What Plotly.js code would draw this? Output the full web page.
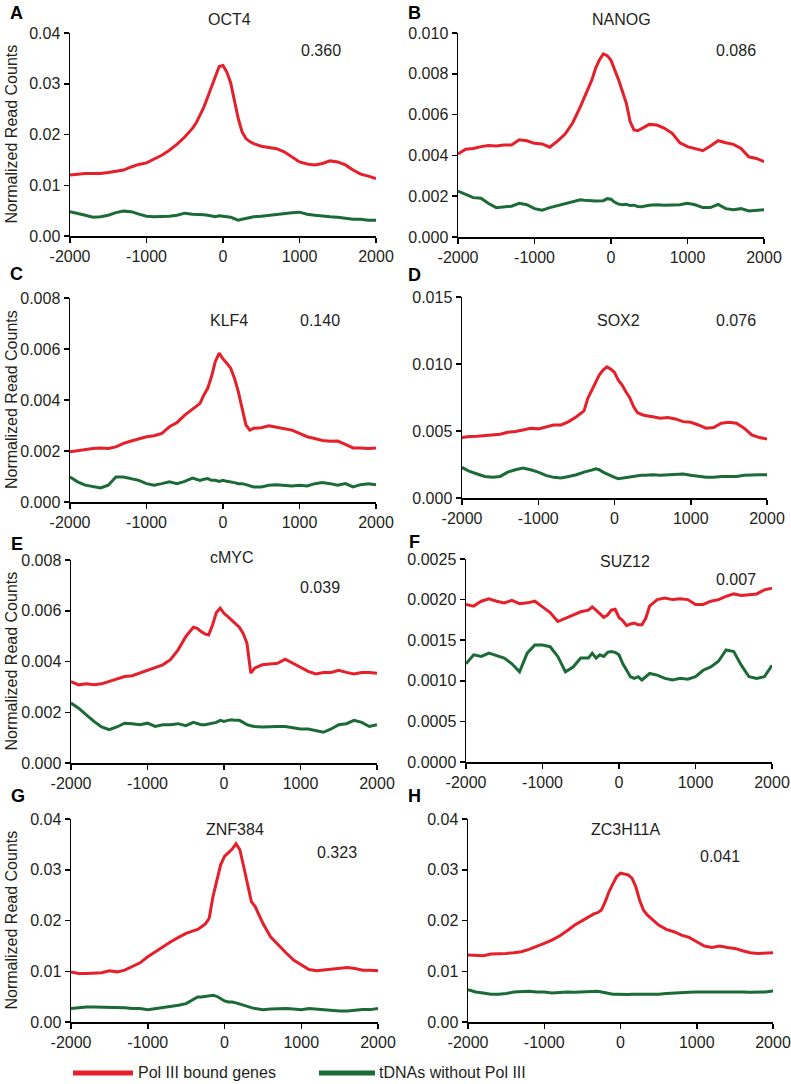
<!DOCTYPE html>
<html>
<head>
<meta charset="utf-8">
<script src="https://cdn.plot.ly/plotly-3.0.1.min.js"></script>
<style>html,body{margin:0;padding:0;background:#fff;}#chart{width:791px;height:1084px;}</style>
</head>
<body>
<div id="chart"></div>
<script>
// ---------------- DATA ----------------
const positions = [-2000,-1900,-1800,-1700,-1600,-1500,-1400,-1300,-1200,-1100,-1000,-900,-800,-700,-600,-500,
  -400,-350,-300,-250,-200,-150,-100,-50,0,50,100,150,200,250,300,350,400,
  500,600,700,800,900,1000,1100,1200,1300,1400,1500,1600,1700,1800,1900,2000];

const panelLetters = ["A","B","C","D","E","F","G","H"];
const factorNames = ["OCT4","NANOG","KLF4","SOX2","cMYC","SUZ12","ZNF384","ZC3H11A"];
const scores = ["0.360","0.086","0.140","0.076","0.039","0.007","0.323","0.041"];
const seriesNames = ["Pol III bound genes","tDNAs without Pol III"];
const yTitle = "Normalized Read Counts";
const xTicks = [-2000,-1000,0,1000,2000];
const xTickLabels = ["-2000","-1000","0","1000","2000"];
const yMax = [0.04,0.010,0.008,0.015,0.008,0.0025,0.04,0.04];
const yStep = [0.01,0.002,0.002,0.005,0.002,0.0005,0.01,0.01];
const yFormat = [".2f",".3f",".3f",".3f",".3f",".4f",".2f",".2f"];

const oct4Pol = [.0120,.0122,.0123,.0123,.0123,.0125,.0127,.0130,.0136,.0141,.0144,.0151,.0159,.0169,.0181,.0195,
  .0212,.0223,.0238,.0254,.0274,.0295,.0317,.0334,.0336,.0323,.0302,.0268,.0231,.0205,.0192,.0186,.0182,
  .0177,.0174,.0172,.0166,.0156,.0146,.0142,.0140,.0143,.0148,.0146,.0140,.0130,.0122,.0118,.0113];
const oct4Tdna = [.0048,.0045,.0041,.0037,.0038,.0041,.0046,.0049,.0048,.0043,.0039,.0038,.0038,.0039,.0041,.0045,
  .0043,.0043,.0043,.0042,.0041,.0040,.0038,.0040,.0039,.0038,.0037,.0034,.0031,.0033,.0035,.0036,.0038,
  .0039,.0041,.0043,.0045,.0046,.0047,.0043,.0041,.0039,.0038,.0037,.0035,.0033,.0033,.0031,.0031];

const nanogPol = [.00407,.00430,.00434,.00443,.00448,.00446,.00451,.00451,.00477,.00472,.00459,.00456,.00440,.00470,.00505,.00560,
  .00639,.0068,.00725,.0077,.00828,.00869,.00898,.00889,.00866,.0082,.0077,.00713,.00656,.00566,.00525,.00521,.00530,
  .00552,.00549,.00533,.00508,.00462,.00443,.00434,.00423,.00446,.00472,.00462,.00454,.00434,.00393,.00385,.00369];
const nanogTdna = [.00225,.00210,.00193,.00190,.00164,.00144,.00146,.00151,.00165,.00158,.00139,.00131,.00144,.00154,.00162,.00172,
  .00182,.00180,.00180,.00178,.00176,.00178,.00178,.00188,.00185,.00170,.00161,.00158,.00160,.00154,.00156,.00150,.00148,
  .00156,.00158,.00156,.00158,.00158,.00165,.00158,.00144,.00144,.00160,.00139,.00134,.00139,.00128,.00130,.00134];

const klf4Pol = [.00197,.00202,.00207,.00210,.00212,.00210,.00216,.00230,.00239,.00247,.00256,.00260,.00269,.00295,.00312,.00341,
  .00365,.00374,.00387,.0042,.00446,.00492,.00551,.00584,.00561,.00544,.00525,.00485,.00433,.00367,.00302,.00282,.00289,
  .00291,.00299,.00293,.00288,.00282,.00269,.00256,.00249,.00241,.00238,.00239,.00226,.00212,.00212,.00210,.00212];
const klf4Tdna = [.00098,.00079,.00066,.00059,.00055,.00066,.00098,.00098,.00092,.00085,.00072,.00066,.00072,.00079,.00072,.00081,
  .00094,.00089,.00085,.00089,.00092,.00085,.00085,.00081,.00085,.00081,.00079,.00076,.00072,.00072,.00068,.00063,.00059,
  .00059,.00066,.00068,.00066,.00063,.00066,.00063,.00072,.00076,.00072,.00066,.00072,.00059,.00068,.00072,.00068];

const sox2Pol = [.00451,.00459,.00461,.00466,.00471,.00476,.00491,.00496,.00508,.00521,.00516,.00533,.00545,.00545,.00570,.00607,
  .0065,.00744,.00806,.00855,.00917,.00955,.00979,.00962,.00937,.0088,.00843,.00793,.00749,.00682,.00637,.00625,.00615,
  .00607,.00595,.0060,.0059,.0057,.00565,.00545,.00521,.00526,.00558,.00565,.00558,.00521,.00471,.00451,.00441];
const sox2Tdna = [.00228,.00198,.00179,.00161,.00154,.00161,.00193,.00211,.00223,.00211,.00193,.00169,.00154,.00149,.00161,.00174,
  .00193,.00198,.00208,.00218,.00211,.00193,.00179,.00169,.00154,.00144,.00149,.00154,.00154,.00161,.00169,.00169,.00169,
  .00174,.00169,.00174,.00174,.00179,.00169,.00161,.00154,.00154,.00161,.00161,.00161,.00169,.00174,.00174,.00174];

const cmycPol = [.00321,.00308,.00312,.00308,.00312,.00321,.00330,.00341,.00344,.00354,.00367,.00374,.00387,.00407,.00446,.00498,
  .00535,.00531,.00518,.00509,.00505,.00544,.00593,.0061,.0059,.00577,.00564,.00551,.00535,.00511,.00472,.00354,.00374,
  .00387,.00391,.00393,.00409,.00393,.0038,.00361,.00351,.00357,.00357,.00365,.00357,.00351,.00357,.00357,.00354];
const cmycTdna = [.00236,.00216,.0019,.00164,.00142,.00131,.00142,.00157,.00155,.00151,.00157,.00144,.00151,.00151,.00155,.00147,
  .0016,.00155,.00151,.00151,.00155,.00157,.0016,.00168,.00164,.00168,.0017,.00168,.00168,.0016,.00151,.00147,.00144,
  .00142,.00144,.00144,.00144,.00138,.00134,.00134,.00129,.00121,.00134,.00151,.00155,.00168,.0016,.00144,.00151];

const suz12Pol = [.00194,.00192,.00198,.00201,.00198,.00196,.00199,.00195,.00196,.00198,.00191,.00184,.00173,.00177,.00181,.00185,
  .00187,.00191,.00187,.00182,.00178,.00181,.00187,.00188,.00178,.00174,.00168,.0017,.00171,.00169,.00169,.00177,.00192,
  .0020,.00202,.0020,.00201,.0020,.00194,.00194,.00198,.0020,.00204,.00207,.00205,.00206,.00207,.00212,.00214];
const suz12Tdna = [.00121,.00132,.0013,.00134,.00131,.00128,.00121,.00111,.00134,.00144,.00144,.00142,.0013,.00111,.00117,.00128,
  .00128,.00134,.00128,.00132,.0013,.00135,.00136,.00135,.00132,.00121,.00113,.00105,.00103,.00105,.00101,.00105,.00109,
  .00107,.00103,.00101,.00103,.00102,.00105,.00113,.00117,.00124,.00138,.00136,.00119,.00105,.00103,.00105,.00119];

const znf384Pol = [.00988,.00956,.00956,.00956,.00969,.01008,.00988,.01021,.01087,.01166,.01285,.01384,.01496,.01582,.01667,.01746,
  .01799,.01825,.01878,.01931,.02043,.02471,.02787,.03097,.03262,.03328,.03407,.03512,.03394,.03064,.02722,.02372,.02273,
  .01944,.0168,.01516,.01364,.01219,.0112,.01035,.01008,.01021,.01035,.01054,.01074,.01054,.01021,.01021,.01008];
const znf384Tdna = [.00264,.00283,.00297,.00297,.00297,.00283,.00283,.00283,.00264,.00264,.00244,.00264,.00283,.0031,.00329,.00362,
  .00461,.00494,.00494,.00507,.00507,.00527,.00507,.00461,.00415,.00395,.00395,.00376,.00349,.00329,.0031,.00283,.00264,
  .00244,.00257,.00264,.00264,.00257,.00244,.00264,.0025,.00231,.00217,.00217,.00217,.00231,.00244,.00244,.00264];

const zc3h11aPol = [.01318,.01318,.01305,.01338,.01338,.01351,.01364,.01384,.0143,.01483,.01549,.01614,.01694,.01799,.01911,.01997,
  .02089,.02129,.02155,.02208,.02372,.0257,.02722,.02867,.02932,.02919,.029,.02834,.02669,.02405,.02208,.02109,.02043,
  .01911,.01825,.01779,.01713,.01667,.01582,.01496,.0147,.01496,.0147,.0145,.01404,.01364,.01351,.01364,.01364];
const zc3h11aTdna = [.00639,.00593,.00573,.00547,.00547,.0056,.00593,.00606,.00606,.00593,.00593,.00573,.00586,.00593,.00586,.00593,
  .00606,.00613,.00606,.00593,.00573,.0056,.00547,.00547,.0054,.0054,.0054,.00547,.00547,.00534,.00534,.00547,.00547,
  .00547,.0056,.00573,.0058,.00586,.00593,.00593,.00606,.006,.00606,.006,.00593,.00586,.00586,.00593,.00613];

const polSeries = [oct4Pol, nanogPol, klf4Pol, sox2Pol, cmycPol, suz12Pol, znf384Pol, zc3h11aPol];
const tdnaSeries = [oct4Tdna, nanogTdna, klf4Tdna, sox2Tdna, cmycTdna, suz12Tdna, znf384Tdna, zc3h11aTdna];

// ---------------- LAYOUT / STYLE ----------------
const W = 791, H = 1084;
const RED = "#e5202a", GREEN = "#1c6a35";
const FONT = "Liberation Sans, Arial, sans-serif";
const TXT = "#231f20";
// plot boxes in pixels: [left, top, right, bottom]
const boxes = [
  [70, 33, 376, 236], [458, 33, 764, 237],
  [70, 298, 376, 502], [462, 297, 767, 498],
  [71, 560, 377, 763], [466, 559, 772, 762],
  [71, 819, 378, 1022], [468, 819, 773, 1022]
];
const letterPos = [[16,13],[414,13],[16,274],[414,275],[17,544],[414,542],[18,796],[414,796]];
const namePos = [[229,19],[621,20],[229,321],[618,321],[232,557],[625,561],[235,829],[625,829]];
const scorePos = [[321,51],[736,51],[320,321],[736,320],[320,587],[736,579],[337,852],[720,856]];

const px = v => v / W, py = v => 1 - v / H;

const traces = [];
const layout = {
  width: W, height: H,
  margin: {l:0, r:0, t:0, b:0},
  paper_bgcolor: "#ffffff", plot_bgcolor: "rgba(0,0,0,0)",
  showlegend: false,
  font: {family: FONT, size: 16, color: TXT},
  annotations: [], shapes: []
};

for (let i = 0; i < 8; i++) {
  const s = i === 0 ? "" : String(i + 1);
  const b = boxes[i];
  traces.push({x: positions, y: tdnaSeries[i], type: "scatter", mode: "lines", name: seriesNames[1],
    xaxis: "x" + s, yaxis: "y" + s, line: {color: GREEN, width: 3}, hoverinfo: "skip"});
  traces.push({x: positions, y: polSeries[i], type: "scatter", mode: "lines", name: seriesNames[0],
    xaxis: "x" + s, yaxis: "y" + s, line: {color: RED, width: 3}, hoverinfo: "skip"});
  layout["xaxis" + s] = {
    domain: [px(b[0]), px(b[2])], anchor: "y" + s, range: [-2000, 2000],
    tickmode: "array", tickvals: xTicks, ticktext: xTickLabels,
    ticks: "outside", ticklen: 5, tickwidth: 1.5, tickcolor: "#000",
    showline: true, linecolor: "#000", linewidth: 1.5, showgrid: false, zeroline: false,
    tickfont: {family: FONT, size: 16, color: TXT}, fixedrange: true
  };
  layout["yaxis" + s] = {
    domain: [py(b[3]), py(b[1])], anchor: "x" + s, range: [0, yMax[i]],
    tick0: 0, dtick: yStep[i], tickformat: yFormat[i],
    ticks: "outside", ticklen: 5, tickwidth: 1.5, tickcolor: "#000",
    showline: true, linecolor: "#000", linewidth: 1.5, showgrid: false, zeroline: false,
    tickfont: {family: FONT, size: 16, color: TXT}, fixedrange: true
  };
  layout.annotations.push({xref: "paper", yref: "paper", x: px(letterPos[i][0]), y: py(letterPos[i][1]),
    text: "<b>" + panelLetters[i] + "</b>", showarrow: false, xanchor: "center", yanchor: "middle",
    font: {family: FONT, size: 18, color: "#000"}});
  layout.annotations.push({xref: "paper", yref: "paper", x: px(namePos[i][0]), y: py(namePos[i][1]),
    text: factorNames[i], showarrow: false, xanchor: "center", yanchor: "middle",
    font: {family: FONT, size: 16, color: TXT}});
  layout.annotations.push({xref: "paper", yref: "paper", x: px(scorePos[i][0]), y: py(scorePos[i][1]),
    text: scores[i], showarrow: false, xanchor: "center", yanchor: "middle",
    font: {family: FONT, size: 16, color: TXT}});
  if (i % 2 === 0) {
    layout.annotations.push({xref: "paper", yref: "paper", x: px(11), y: py((b[1] + b[3]) / 2),
      text: yTitle, textangle: -90, showarrow: false, xanchor: "center", yanchor: "middle",
      font: {family: FONT, size: 16, color: TXT}});
  }
}

// legend (custom)
layout.shapes.push({type: "line", xref: "paper", yref: "paper", x0: px(73), x1: px(133), y0: py(1073), y1: py(1073),
  line: {color: RED, width: 5}});
layout.shapes.push({type: "line", xref: "paper", yref: "paper", x0: px(319), x1: px(375), y0: py(1073), y1: py(1073),
  line: {color: GREEN, width: 5}});
layout.annotations.push({xref: "paper", yref: "paper", x: px(136), y: py(1072), text: seriesNames[0],
  showarrow: false, xanchor: "left", yanchor: "middle", font: {family: FONT, size: 16, color: TXT}});
layout.annotations.push({xref: "paper", yref: "paper", x: px(377), y: py(1072), text: seriesNames[1],
  showarrow: false, xanchor: "left", yanchor: "middle", font: {family: FONT, size: 16, color: TXT}});

Plotly.newPlot("chart", traces, layout, {displayModeBar: false, staticPlot: true});
</script>
</body>
</html>
